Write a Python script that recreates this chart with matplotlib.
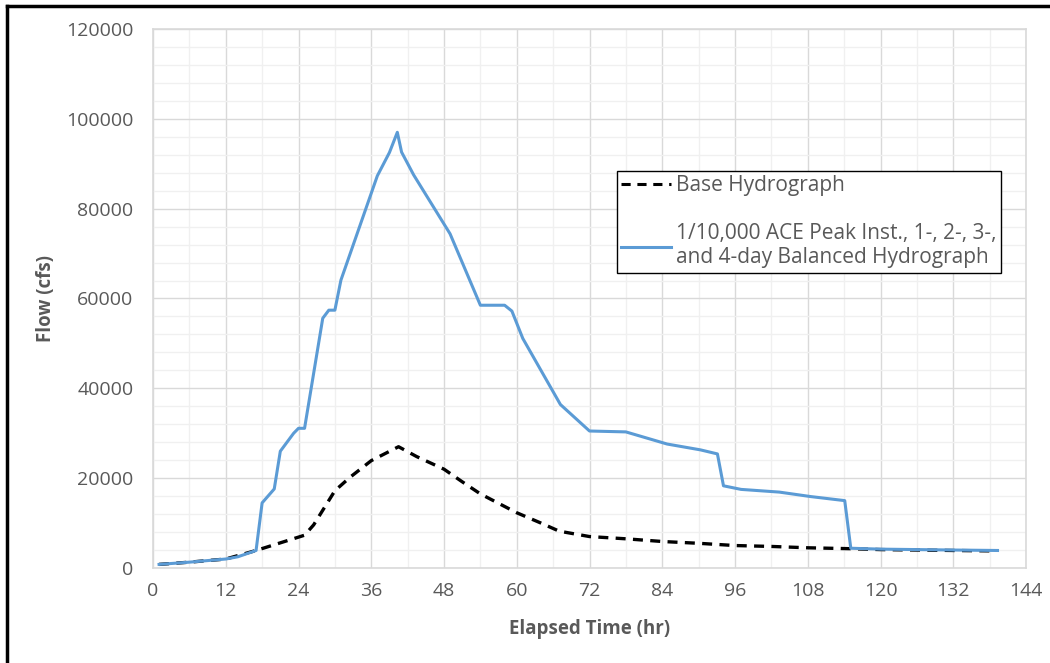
import matplotlib
matplotlib.use("Agg")
import matplotlib.pyplot as plt
from matplotlib.ticker import MultipleLocator
from matplotlib.lines import Line2D

# Base hydrograph (dashed black)
base_hr = [1, 6, 12, 17, 25, 26.5, 30, 32.5, 36, 40.5, 43.5, 48, 51, 54, 60,
           64, 67, 72, 78, 84, 90, 96, 102, 108, 115, 120, 132, 139]
base_cfs = [800, 1300, 2000, 3900, 7300, 9600, 17200, 20200, 23900, 27000,
            24800, 22000, 19200, 16500, 12300, 10000, 8200, 7000, 6500, 5900,
            5500, 5000, 4800, 4500, 4300, 4100, 3900, 3800]

# 1/10,000 ACE balanced hydrograph (blue)
ace_hr = [1, 6, 12, 14, 17, 18, 20, 21, 23.2, 24, 25, 28, 29, 30, 31, 37, 39,
          40.3, 41, 43, 49, 54, 58, 59.2, 61, 67.2, 72, 78, 84.8, 90.3, 93.1,
          94.1, 97, 103.3, 108.5, 114.1, 115.1, 120, 132, 139.3]
ace_cfs = [800, 1300, 2000, 2500, 3900, 14500, 17600, 26000, 30000, 31100,
           31100, 55600, 57400, 57400, 64100, 87300, 92500, 97000, 92600,
           87500, 74400, 58500, 58500, 57200, 51100, 36400, 30500, 30300,
           27600, 26300, 25400, 18300, 17500, 16900, 15900, 15000, 4400, 4200,
           4000, 3900]

base_label = "Base Hydrograph"
ace_label = "1/10,000 ACE Peak Inst., 1-, 2-, 3-,\nand 4-day Balanced Hydrograph"

text_col = "#595959"
blue = "#5B9BD5"

plt.rcParams["font.family"] = ["Open Sans", "DejaVu Sans"]

fig = plt.figure(figsize=(10.5, 6.63), dpi=100)
ax = fig.add_axes([153 / 1050, 1 - 568 / 663, (1026 - 153) / 1050, (568 - 29) / 663])

ax.plot(base_hr, base_cfs, color="black", lw=2.4, ls=(0, (3, 2.2)), zorder=3)
ax.plot(ace_hr, ace_cfs, color=blue, lw=2.2, zorder=4)

ax.set_xlim(0, 144)
ax.set_ylim(0, 120000)
ax.xaxis.set_major_locator(MultipleLocator(12))
ax.xaxis.set_minor_locator(MultipleLocator(6))
ax.yaxis.set_major_locator(MultipleLocator(20000))
ax.yaxis.set_minor_locator(MultipleLocator(4000))

ax.grid(which="major", color="#D9D9D9", lw=1.0, zorder=0)
ax.grid(which="minor", color="#F0F0F0", lw=1.0, zorder=0)
ax.set_axisbelow(True)
for s in ax.spines.values():
    s.set_color("#D9D9D9")
    s.set_linewidth(1.2)

ax.tick_params(which="both", length=0, labelsize=14, colors=text_col)
ax.tick_params(axis="x", pad=10)
ax.tick_params(axis="y", pad=14)
ax.set_xlabel("Elapsed Time (hr)", fontsize=13.5, fontweight="bold", color=text_col, labelpad=14)
ax.set_ylabel("Flow (cfs)", fontsize=13.5, fontweight="bold", color=text_col, labelpad=7)

handles = [Line2D([], [], color="black", lw=2.2, ls=(0, (3, 2.2))),
           Line2D([], [], color=blue, lw=2.2)]
leg = fig.legend(handles, [base_label, ace_label], loc="upper left",
                 bbox_to_anchor=(617 / 1050, 1 - 171 / 663), fontsize=15,
                 frameon=True, fancybox=False, framealpha=1, edgecolor="black",
                 labelspacing=1.3, handlelength=2.4, handletextpad=0.25,
                 borderpad=0.2, borderaxespad=0)
leg.get_frame().set_linewidth(1.0)
for t in leg.get_texts():
    t.set_color(text_col)

# outer chart frame (top and left edges visible)
fig.add_artist(Line2D([7 / 1050, 1], [1 - 6 / 663, 1 - 6 / 663], color="black", lw=2.5))
fig.add_artist(Line2D([7 / 1050, 7 / 1050], [0, 1 - 6 / 663], color="black", lw=2.5))

fig.savefig("out.png", dpi=100)
